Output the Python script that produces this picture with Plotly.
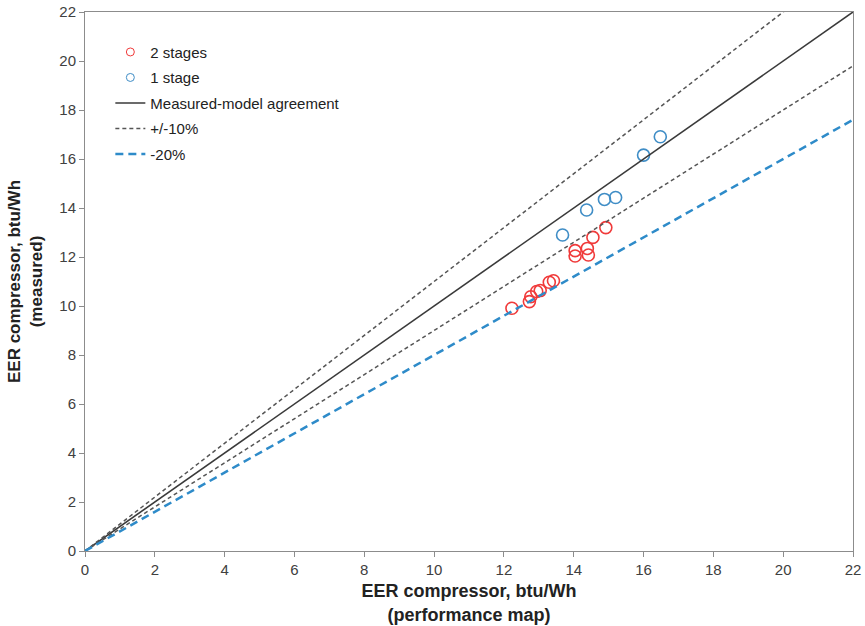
import plotly.graph_objects as go

# Data
x_2stages = [12.23, 12.73, 12.77, 12.94, 13.04, 13.30, 13.42, 14.04, 14.04, 14.39, 14.42, 14.55, 14.92]
y_2stages = [9.91, 10.18, 10.38, 10.59, 10.63, 10.97, 11.03, 12.26, 12.04, 12.35, 12.08, 12.80, 13.20]
x_1stage = [13.68, 14.37, 14.88, 15.20, 16.00, 16.48]
y_1stage = [12.90, 13.92, 14.35, 14.43, 16.16, 16.91]

line_x = [0, 22]
agree_y = [0, 22]
plus10_y = [0, 24.2]
minus10_y = [0, 19.8]
minus20_y = [0, 17.6]

tick_vals = list(range(0, 23, 2))

RED = "#F03A3A"
BLUE = "#3F8DC6"
FONT = "Liberation Sans, Arial"

fig = go.Figure()
# data markers (legend drawn with small proxy markers)
fig.add_trace(go.Scatter(x=x_2stages, y=y_2stages, mode="markers", name="2 stages",
                         legendgroup="a", showlegend=False,
                         marker=dict(symbol="circle-open", size=12, color=RED,
                                     line=dict(width=1.6, color=RED))))
fig.add_trace(go.Scatter(x=x_1stage, y=y_1stage, mode="markers", name="1 stage",
                         legendgroup="b", showlegend=False,
                         marker=dict(symbol="circle-open", size=12, color=BLUE,
                                     line=dict(width=1.6, color=BLUE))))
fig.add_trace(go.Scatter(x=[None], y=[None], mode="markers", name="2 stages",
                         legendgroup="a",
                         marker=dict(symbol="circle-open", size=8, color=RED,
                                     line=dict(width=1, color=RED))))
fig.add_trace(go.Scatter(x=[None], y=[None], mode="markers", name="1 stage",
                         legendgroup="b",
                         marker=dict(symbol="circle-open", size=8, color=BLUE,
                                     line=dict(width=1, color=BLUE))))
fig.add_trace(go.Scatter(x=line_x, y=agree_y, mode="lines", name="Measured-model agreement",
                         legendgroup="c",
                         line=dict(color="#3A3A3A", width=1.6)))
fig.add_trace(go.Scatter(x=line_x, y=plus10_y, mode="lines", name="+/-10%",
                         legendgroup="d",
                         line=dict(color="#555555", width=1.5, dash="4px,3px")))
fig.add_trace(go.Scatter(x=line_x, y=minus10_y, mode="lines", name="+/-10%",
                         legendgroup="d", showlegend=False,
                         line=dict(color="#555555", width=1.5, dash="4px,3px")))
fig.add_trace(go.Scatter(x=line_x, y=minus20_y, mode="lines", name="-20%",
                         legendgroup="e",
                         line=dict(color="#2E8BC9", width=2.5, dash="8px,5px")))

axis_common = dict(range=[0, 22], tickvals=tick_vals, showgrid=False, zeroline=False,
                   showline=True, linecolor="#8C8C8C", linewidth=1, mirror=True,
                   ticks="outside", ticklen=5, tickcolor="#8C8C8C", automargin=False,
                   tickfont=dict(family=FONT, size=15, color="#404040"))

fig.update_layout(
    width=865, height=626,
    margin=dict(l=85, r=12, t=12, b=75),
    paper_bgcolor="white", plot_bgcolor="white",
    xaxis=dict(**axis_common,
               title=dict(text="<b>EER compressor, btu/Wh<br>(performance map)</b>",
                          font=dict(family=FONT, size=18, color="#222222"),
                          standoff=7)),
    yaxis=dict(**axis_common,
               title=dict(text="<b>EER compressor, btu/Wh<br>(measured)</b>",
                          font=dict(family=FONT, size=17, color="#222222"),
                          standoff=12)),
    legend=dict(x=0.033, y=0.956, xanchor="left", yanchor="top",
                bgcolor="rgba(0,0,0,0)", traceorder="grouped", tracegroupgap=3,
                font=dict(family=FONT, size=15, color="#222222")),
    showlegend=True,
)

fig.write_html("out.html")
